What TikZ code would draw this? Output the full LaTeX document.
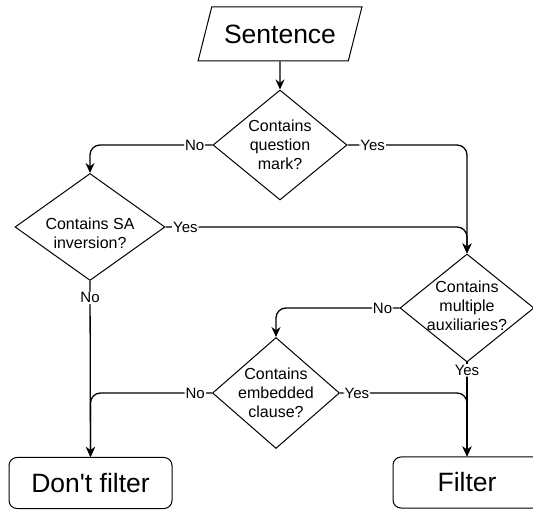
\documentclass[tikz,border=0pt]{standalone}
\usepackage{fontspec}
\setmainfont{Liberation Sans}
\newfontfamily\plainfont{Liberation Sans}
\usetikzlibrary{shapes.geometric,arrows.meta}
\tikzset{
  dia/.style={draw, line width=1pt, shape=diamond, inner sep=0pt},
  txt/.style={align=center, font=\fontsize{16}{19}\selectfont, inner sep=0pt},
  bigbox/.style={draw, line width=1pt, rounded corners=8pt, font=\plainfont\fontsize{26.5}{30}\selectfont},
  conn/.style={line width=1.3pt, rounded corners=10pt, -{Stealth[length=10pt,width=9pt]}},
  lab/.style={fill=white, inner sep=1pt, font=\fontsize{15}{17}\selectfont}
}
\begin{document}
\begin{tikzpicture}[x=1pt,y=-1pt]
\useasboundingbox (0,0) rectangle (533,510);
\clip (0,0) rectangle (533,510);
\node[draw, line width=1pt, trapezium, trapezium left angle=65, trapezium right angle=115,
      trapezium stretches=true, minimum width=164pt, minimum height=54pt,
      font=\fontsize{26.5}{30}\selectfont] (S) at (280,34) {Sentence};
\node[dia, minimum width=134pt, minimum height=110pt,
      label={[txt]center:{Contains\\question\\mark?}}] (Q) at (280,145) {};
\node[dia, minimum width=150pt, minimum height=107pt,
      label={[txt,yshift=-6pt]center:{Contains SA\\inversion?}}] (SA) at (90,227) {};
\node[dia, minimum width=134pt, minimum height=108pt,
      label={[txt,yshift=2pt]center:{Contains\\multiple\\auxiliaries?}}] (D3) at (467,308) {};
\node[dia, minimum width=127pt, minimum height=111pt,
      label={[txt]center:{Contains\\embedded\\clause?}}] (D4) at (276,393) {};
\node[bigbox, minimum width=163pt, minimum height=51pt] (DF) at (90.5,483) {Don't filter};
\node[bigbox, minimum width=148pt, minimum height=51pt] (F) at (467,482.5) {Filter};

\draw[conn] (S.south) -- (Q.north);
\draw[conn] (Q.west) -- node[lab,pos=0.146]{No} (Q.west -| SA.north) -- (SA.north);
\draw[conn] (Q.east) -- node[lab,pos=0.21]{Yes} (Q.east -| D3.north) -- (D3.north);
\draw[conn] (SA.east) -- node[lab,pos=0.066]{Yes} (SA.east -| D3.north) -- (D3.north);
\draw[conn] (D3.west) -- node[lab,pos=0.137]{No} (D3.west -| D4.north) -- (D4.north);
\draw[conn] (D3.south) -- node[lab,pos=0.084]{Yes} (F.north);
\draw[conn] (SA.south) -- node[lab,pos=0.096]{No} (DF.north);
\draw[conn] (D4.west) -- node[lab,pos=0.138]{No} (D4.west -| DF.north) -- (DF.north);
\draw[conn] (D4.east) -- node[lab,pos=0.133]{Yes} (D4.east -| F.north) -- (F.north);
\end{tikzpicture}
\end{document}
